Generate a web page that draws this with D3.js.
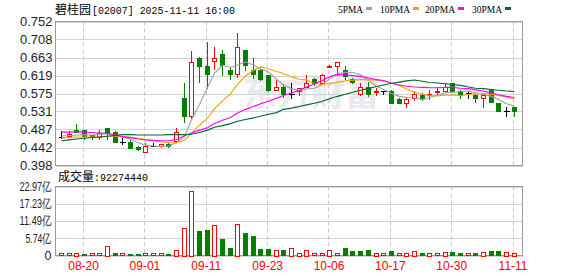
<!DOCTYPE html>
<html>
<head>
<meta charset="utf-8">
<script src="https://cdn.jsdelivr.net/npm/d3@7"></script>
<style>
body { margin: 0; background: #fff; }
svg { display: block; }
</style>
</head>
<body>
<svg width="578" height="276"></svg>
<script>
var dates = ['08-15','08-18','08-19','08-20','08-21','08-22','08-25','08-26','08-27','08-28','08-29',
  '09-01','09-02','09-03','09-04','09-05','09-08','09-09','09-10','09-11','09-12','09-15','09-16','09-17',
  '09-18','09-19','09-22','09-23','09-24','09-25','09-26','09-29','09-30',
  '10-02','10-03','10-06','10-08','10-09','10-10','10-13','10-14','10-15','10-16','10-17','10-20','10-21',
  '10-22','10-23','10-24','10-27','10-28','10-30','10-31',
  '11-03','11-04','11-05','11-06','11-07','11-10','11-11'];

var opens = [0.469,0.471,0.485,0.485,0.473,0.468,0.490,0.480,0.456,0.455,
  0.443,0.430,0.447,0.446,0.452,0.458,0.564,0.520,0.662,0.643,
  0.655,0.671,0.633,0.622,0.682,0.633,0.633,0.620,0.584,0.592,
  0.575,0.580,0.592,0.610,0.602,0.642,0.643,0.632,0.610,0.574,
  0.590,0.578,0.580,0.582,0.561,0.552,0.563,0.572,0.572,0.580,
  0.582,0.600,0.580,0.577,0.572,0.563,0.584,0.551,0.531,0.541];
var highs = [0.484,0.484,0.499,0.486,0.474,0.486,0.491,0.484,0.466,0.460,
  0.446,0.453,0.453,0.452,0.454,0.491,0.601,0.679,0.664,0.702,
  0.690,0.682,0.641,0.723,0.683,0.662,0.638,0.620,0.611,0.598,
  0.600,0.589,0.621,0.612,0.622,0.646,0.653,0.642,0.612,0.600,
  0.604,0.588,0.581,0.583,0.565,0.567,0.582,0.577,0.584,0.592,
  0.600,0.601,0.584,0.582,0.574,0.575,0.586,0.552,0.541,0.542];
var lows = [0.465,0.468,0.480,0.463,0.462,0.463,0.463,0.455,0.452,0.441,
  0.436,0.430,0.446,0.443,0.443,0.456,0.505,0.515,0.603,0.588,
  0.635,0.620,0.611,0.616,0.633,0.614,0.609,0.580,0.584,0.567,
  0.563,0.572,0.590,0.596,0.600,0.639,0.620,0.610,0.600,0.572,
  0.568,0.572,0.574,0.552,0.551,0.541,0.559,0.558,0.561,0.572,
  0.580,0.580,0.563,0.563,0.553,0.542,0.555,0.531,0.520,0.520];
var closes = [0.469,0.475,0.481,0.471,0.471,0.478,0.479,0.456,0.456,0.442,
  0.438,0.446,0.447,0.451,0.446,0.480,0.520,0.652,0.643,0.622,
  0.662,0.645,0.622,0.690,0.645,0.622,0.611,0.584,0.590,0.573,
  0.575,0.588,0.602,0.602,0.620,0.643,0.652,0.618,0.603,0.590,
  0.574,0.580,0.580,0.552,0.552,0.561,0.574,0.563,0.574,0.582,
  0.591,0.582,0.572,0.577,0.563,0.571,0.555,0.531,0.531,0.533];

// volume in 亿
var volumes = [0.34,0.34,0.9,0.57,0.34,0.57,3.0,0.9,0.57,0.57,
  0.34,0.34,0.34,0.34,0.34,1.9,9.0,21.4,8.1,8.45,
  10.0,5.4,2.6,10.4,7.5,6.4,2.3,2.3,1.9,1.9,
  2.6,0.9,1.7,0.35,0.6,1.9,0.6,2.4,1.5,1.5,
  1.7,0.9,0.6,1.35,0.35,0.9,1.35,0.7,0.9,0.6,
  1.0,1.0,0.7,0.35,0.7,1.0,1.45,1.45,1.25,0.92];

var ma5 = [0.471,0.471,0.473,0.474,0.473,0.475,0.476,0.471,0.468,0.462,
  0.454,0.448,0.446,0.445,0.446,0.454,0.469,0.510,0.548,0.590,
  0.625,0.645,0.639,0.645,0.653,0.645,0.636,0.628,0.610,0.596,
  0.587,0.582,0.586,0.588,0.597,0.611,0.624,0.627,0.627,0.621,
  0.607,0.593,0.585,0.575,0.568,0.565,0.564,0.560,0.565,0.571,
  0.577,0.578,0.580,0.581,0.577,0.573,0.568,0.560,0.550,0.544];
var ma10 = [0.466,0.467,0.468,0.468,0.468,0.469,0.470,0.470,0.469,0.468,
  0.465,0.462,0.458,0.456,0.454,0.454,0.460,0.478,0.497,0.515,
  0.537,0.557,0.574,0.598,0.618,0.632,0.641,0.635,0.629,0.624,
  0.616,0.610,0.608,0.599,0.597,0.599,0.603,0.606,0.608,0.609,
  0.609,0.608,0.606,0.601,0.594,0.586,0.578,0.573,0.570,0.569,
  0.571,0.571,0.570,0.573,0.574,0.575,0.573,0.570,0.566,0.561];
var ma20 = [0.480,0.480,0.481,0.480,0.479,0.478,0.477,0.473,0.469,0.466,
  0.463,0.461,0.460,0.459,0.459,0.462,0.471,0.478,0.485,0.491,
  0.501,0.509,0.516,0.527,0.536,0.543,0.550,0.556,0.563,0.570,
  0.576,0.583,0.591,0.599,0.607,0.616,0.622,0.621,0.619,0.617,
  0.613,0.609,0.607,0.600,0.596,0.593,0.591,0.590,0.589,0.589,
  0.590,0.590,0.588,0.587,0.584,0.581,0.576,0.572,0.568,0.565];
var ma30 = [0.459,0.461,0.463,0.465,0.467,0.468,0.470,0.472,0.474,0.474,
  0.473,0.473,0.473,0.473,0.474,0.474,0.474,0.475,0.479,0.485,
  0.492,0.496,0.501,0.507,0.511,0.515,0.519,0.524,0.528,0.536,
  0.539,0.543,0.547,0.551,0.556,0.562,0.568,0.573,0.578,0.583,
  0.587,0.592,0.596,0.600,0.603,0.606,0.608,0.605,0.602,0.601,
  0.599,0.597,0.595,0.591,0.588,0.587,0.585,0.583,0.581,0.580];

var priceTicks = [0.398, 0.442, 0.487, 0.531, 0.575, 0.619, 0.663, 0.708, 0.752];
var volTicks = [0, 5.74, 11.49, 17.23, 22.97];
var dateTicks = ['08-20','09-01','09-11','09-23','10-06','10-17','10-30','11-11'];
var maNames = ['5PMA', '10PMA', '20PMA', '30PMA'];
var lastVolume = '92274440';

var RED = '#ff0000', GREEN = '#008000';
var maColors = ['#a0a0a0', '#f4a300', '#ff00ff', '#006633'];
var sansFont = "'Liberation Sans', Arial, sans-serif";
var monoFont = "'Liberation Mono', monospace";
var cjkFont = "'Noto Sans CJK SC', sans-serif";

var left = 55.5, right = 522.5;

var svg = d3.select('svg');

var xScale = d3.scaleBand()
    .domain(dates)
    .range([57.7, 517.9]);

var yScale = d3.scaleLinear()
    .domain([0.398, 0.752])
    .range([165.5, 21.5]);

var vScale = d3.scaleLinear()
    .domain([0, 22.97])
    .range([255.5, 186.5]);

function xc(i) {
    return Math.floor(xScale(dates[i]) + xScale.bandwidth() / 2) + 0.5;
}

// watermark
svg.append('text')
    .attr('x', 243)
    .attr('y', 106)
    .attr('textLength', 136)
    .attr('lengthAdjust', 'spacingAndGlyphs')
    .style('font-family', cjkFont)
    .style('font-weight', 'bold')
    .style('font-size', '36px')
    .style('fill', '#e9e9ee')
    .text('东方财富');

// horizontal grid
svg.append('g')
    .attr('transform', 'translate(' + left + ',0)')
    .call(d3.axisLeft(yScale).tickValues(priceTicks).tickSize(-(right - left)).tickFormat(''))
    .call(function(g) { g.select('.domain').remove(); })
    .selectAll('line').attr('stroke', '#d4d4d4').attr('shape-rendering', 'crispEdges');

svg.append('g')
    .attr('transform', 'translate(' + left + ',0)')
    .call(d3.axisLeft(vScale).tickValues(volTicks).tickSize(-(right - left)).tickFormat(''))
    .call(function(g) { g.select('.domain').remove(); })
    .selectAll('line').attr('stroke', '#d4d4d4').attr('shape-rendering', 'crispEdges');

// vertical dashed grid
[[21.5, 165.5], [186.5, 255.5]].forEach(function(r) {
    svg.append('g')
        .selectAll('line')
        .data(dateTicks)
        .enter()
        .append('line')
        .attr('x1', function(d) { return xc(dates.indexOf(d)) - 1; })
        .attr('x2', function(d) { return xc(dates.indexOf(d)) - 1; })
        .attr('y1', r[0])
        .attr('y2', r[1])
        .attr('stroke', '#c8c8c8')
        .attr('stroke-dasharray', '4,3');
});

// frames
[[21.5, 165.5], [186.5, 255.5]].forEach(function(r) {
    svg.append('rect')
        .attr('x', left)
        .attr('y', r[0])
        .attr('width', right - left)
        .attr('height', r[1] - r[0])
        .attr('fill', 'none')
        .attr('stroke', '#9a9a9a')
        .attr('shape-rendering', 'crispEdges');
});

// candles
var idx = d3.range(dates.length);
var candle = svg.append('g')
    .attr('shape-rendering', 'crispEdges')
    .selectAll('g')
    .data(idx)
    .enter()
    .append('g');

function candleColor(i) {
    if (closes[i] > opens[i]) return RED;
    if (closes[i] < opens[i]) return GREEN;
    return '#000';
}

candle.append('line')
    .attr('x1', xc)
    .attr('x2', xc)
    .attr('y1', function(i) { return Math.round(yScale(highs[i])); })
    .attr('y2', function(i) { return Math.round(yScale(lows[i])) + 1; })
    .attr('stroke', candleColor);

candle.each(function(i) {
    var g = d3.select(this);
    var top = Math.round(yScale(Math.max(opens[i], closes[i])));
    var bot = Math.round(yScale(Math.min(opens[i], closes[i])));
    var x = xc(i);
    if (closes[i] === opens[i]) {
        g.append('line')
            .attr('x1', x - 2.5).attr('x2', x + 3.5)
            .attr('y1', top + 0.5).attr('y2', top + 0.5)
            .attr('stroke', '#000');
    } else if (closes[i] > opens[i]) {
        if (bot - top < 2) {
            g.append('rect').attr('x', x - 2.5).attr('y', top).attr('width', 5).attr('height', 2).attr('fill', RED);
        } else {
            g.append('rect')
                .attr('x', x - 2).attr('y', top + 0.5)
                .attr('width', 4).attr('height', bot - top)
                .attr('fill', '#fff').attr('stroke', RED);
        }
    } else {
        g.append('rect')
            .attr('x', x - 2.5).attr('y', top)
            .attr('width', 5).attr('height', Math.max(2, bot - top + 1))
            .attr('fill', GREEN);
    }
});

// moving averages
var maLine = d3.line()
    .x(function(d, i) { return xc(i); })
    .y(function(d) { return yScale(d); });

[ma5, ma10, ma20, ma30].forEach(function(series, k) {
    svg.append('path')
        .datum(series)
        .attr('d', maLine)
        .attr('fill', 'none')
        .attr('stroke', maColors[k])
        .attr('stroke-width', 1.1);
});

// volume bars, coloured against the previous close
function volUp(i) {
    return i === 0 ? closes[i] >= opens[i] : closes[i] >= closes[i - 1];
}

svg.append('g')
    .attr('shape-rendering', 'crispEdges')
    .selectAll('rect')
    .data(idx)
    .enter()
    .append('rect')
    .attr('x', function(i) { return volUp(i) ? xc(i) - 2 : xc(i) - 2.5; })
    .attr('y', function(i) { return Math.min(253.5, Math.round(vScale(volumes[i])) + (volUp(i) ? 0.5 : 0)); })
    .attr('width', function(i) { return volUp(i) ? 4 : 5; })
    .attr('height', function(i) { return Math.max(1.5, 255.5 - Math.min(253.5, Math.round(vScale(volumes[i])))); })
    .attr('fill', function(i) { return volUp(i) ? '#fff' : GREEN; })
    .attr('stroke', function(i) { return volUp(i) ? RED : 'none'; });

// y axis labels
svg.append('g')
    .attr('transform', 'translate(' + (left - 2) + ',0)')
    .call(d3.axisLeft(yScale).tickValues(priceTicks).tickSize(0).tickPadding(1).tickFormat(d3.format('.3f')))
    .call(function(g) { g.select('.domain').remove(); })
    .selectAll('text')
    .style('font-family', sansFont)
    .style('font-size', '13px')
    .style('fill', '#1e1e28');

svg.append('g')
    .attr('transform', 'translate(' + (left - 3) + ',0)')
    .call(d3.axisLeft(vScale).tickValues(volTicks).tickSize(0).tickPadding(1)
        .tickFormat(function(d) { return d === 0 ? '0' : d.toFixed(2) + '亿'; }))
    .call(function(g) { g.select('.domain').remove(); })
    .selectAll('text')
    .style('font-family', sansFont)
    .style('font-size', '12.5px')
    .style('fill', '#1e1e28')
    .attr('textLength', function(d) { return d === 0 ? null : (d >= 10 ? 32 : 26); })
    .attr('lengthAdjust', 'spacingAndGlyphs');

// x axis labels
svg.append('g')
    .attr('transform', 'translate(0,258)')
    .call(d3.axisBottom(xScale).tickValues(dateTicks).tickSize(0).tickPadding(3))
    .call(function(g) { g.select('.domain').remove(); })
    .selectAll('text')
    .attr('x', -1)
    .style('font-family', sansFont)
    .style('font-size', '12px')
    .style('fill', RED);

// title: chinese name, then the fixed-width part
svg.append('text')
    .attr('x', 55)
    .attr('y', 14)
    .style('font-family', cjkFont)
    .style('font-size', '12px')
    .style('fill', '#000')
    .text('碧桂园');
svg.append('text')
    .attr('x', 92)
    .attr('y', 13.5)
    .attr('textLength', 143)
    .attr('lengthAdjust', 'spacingAndGlyphs')
    .style('font-family', monoFont)
    .style('font-size', '11.5px')
    .style('fill', '#000')
    .text('[02007] 2025-11-11 16:00');

// volume caption
svg.append('text')
    .attr('x', 58)
    .attr('y', 181)
    .style('font-family', cjkFont)
    .style('font-size', '12px')
    .style('fill', '#000')
    .text('成交量');
svg.append('text')
    .attr('x', 94)
    .attr('y', 180.5)
    .attr('textLength', 54)
    .attr('lengthAdjust', 'spacingAndGlyphs')
    .style('font-family', monoFont)
    .style('font-size', '11.5px')
    .style('fill', '#000')
    .text(':' + lastVolume);

// legend
var legendX = [338, 380, 425, 472];
maNames.forEach(function(name, k) {
    var w = name.length === 4 ? 25 : 30;
    svg.append('text')
        .attr('x', legendX[k])
        .attr('y', 13)
        .attr('textLength', w)
        .attr('lengthAdjust', 'spacingAndGlyphs')
        .style('font-family', "'Liberation Serif', serif")
        .style('font-size', '11px')
        .style('fill', '#000')
        .text(name);
    svg.append('rect')
        .attr('x', legendX[k] + w + 3)
        .attr('y', 7)
        .attr('width', 6)
        .attr('height', 3)
        .attr('fill', maColors[k]);
});
</script>
</body>
</html>
